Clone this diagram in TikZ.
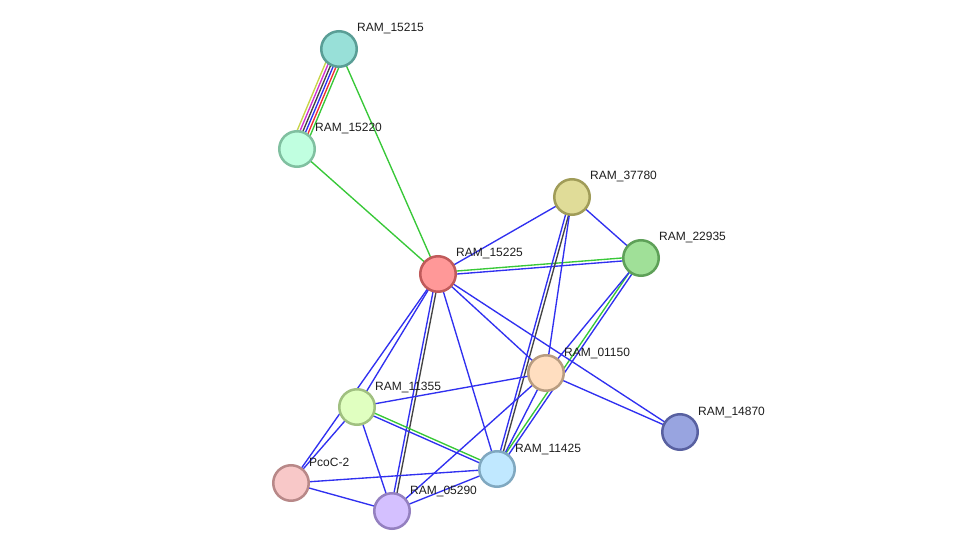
\documentclass[tikz,border=0pt]{standalone}
\usepackage{fontspec}
\setmainfont{Liberation Sans}
\usetikzlibrary{calc,backgrounds}

\tikzset{
    protein/.style={circle, line width=2.5pt, minimum size=35.5pt, inner sep=0pt},
    plabel/.style={anchor=base west, inner sep=0pt, font=\fontsize{12}{14}\selectfont, text=black!88},
    link/.style={line width=1.35pt},
}

\begin{document}
\begin{tikzpicture}[x=1pt, y=-1pt]
    % Define colours
    \definecolor{linkBlue}{HTML}{3030F0}
    \definecolor{linkGreen}{HTML}{38C838}
    \definecolor{linkGray}{HTML}{444444}
    \definecolor{linkRed}{HTML}{F03030}
    \definecolor{linkMagenta}{HTML}{D030D0}
    \definecolor{linkYellow}{HTML}{C8D448}

    \useasboundingbox (0,0) rectangle (975,556);

    % Draw proteins
    \node[protein, fill={rgb,255:red,152;green,224;blue,216}, draw={rgb,255:red,90;green,158;blue,150}] (p15215) at (339,49) {};
    \node[protein, fill={rgb,255:red,192;green,255;blue,224}, draw={rgb,255:red,128;green,192;blue,160}] (p15220) at (297,149) {};
    \node[protein, fill={rgb,255:red,224;green,220;blue,152}, draw={rgb,255:red,160;green,156;blue,88}] (p37780) at (572,197) {};
    \node[protein, fill={rgb,255:red,160;green,224;blue,152}, draw={rgb,255:red,94;green,160;blue,88}] (p22935) at (641,258) {};
    \node[protein, fill={rgb,255:red,255;green,152;blue,152}, draw={rgb,255:red,192;green,90;blue,90}] (p15225) at (438,274) {};
    \node[protein, fill={rgb,255:red,255;green,222;blue,192}, draw={rgb,255:red,184;green,156;blue,128}] (p01150) at (546,373) {};
    \node[protein, fill={rgb,255:red,224;green,255;blue,192}, draw={rgb,255:red,160;green,192;blue,128}] (p11355) at (357,407) {};
    \node[protein, fill={rgb,255:red,152;green,164;blue,224}, draw={rgb,255:red,88;green,96;blue,160}] (p14870) at (680,432) {};
    \node[protein, fill={rgb,255:red,192;green,232;blue,255}, draw={rgb,255:red,128;green,168;blue,192}] (p11425) at (497,469) {};
    \node[protein, fill={rgb,255:red,248;green,200;blue,200}, draw={rgb,255:red,184;green,136;blue,136}] (pPcoC) at (291,483) {};
    \node[protein, fill={rgb,255:red,212;green,192;blue,255}, draw={rgb,255:red,148;green,128;blue,192}] (p05290) at (392,511) {};

    % Label proteins
    \foreach \p/\lbl in {p15215/RAM\_15215, p15220/RAM\_15220, p37780/RAM\_37780,
        p22935/RAM\_22935, p15225/RAM\_15225, p01150/RAM\_01150, p11355/RAM\_11355,
        p14870/RAM\_14870, p11425/RAM\_11425, pPcoC/PcoC-2, p05290/RAM\_05290}
        \node[plabel] at ($(\p.center)+(18,-17)$) {\lbl};

    % Draw links under the proteins
    \begin{scope}[on background layer]
        \fill[white] (0,0) rectangle (975,556);
        \foreach \a/\b/\o/\c in {
            p15215/p15220/-7/linkYellow, p15215/p15220/-4.2/linkMagenta,
            p15215/p15220/-1.4/linkGray, p15215/p15220/1.4/linkBlue,
            p15215/p15220/4.2/linkRed, p15215/p15220/7/linkGreen,
            p15215/p15225/0/linkGreen, p15220/p15225/0/linkGreen,
            p15225/p22935/1.5/linkGreen, p15225/p22935/-1.5/linkBlue,
            p37780/p11425/1.5/linkGray, p37780/p11425/-1.5/linkBlue,
            p22935/p11425/1.5/linkBlue, p22935/p11425/-1.5/linkGreen,
            p15225/p05290/1.5/linkGray, p15225/p05290/-1.5/linkBlue,
            p11355/p11425/1.5/linkGreen, p11355/p11425/-1.5/linkBlue,
            p15225/p37780/0/linkBlue, p37780/p22935/0/linkBlue,
            p37780/p01150/0/linkBlue, p22935/p01150/0/linkBlue,
            p15225/p01150/0/linkBlue, p15225/p14870/0/linkBlue,
            p01150/p14870/0/linkBlue, p15225/p11425/0/linkBlue,
            p15225/p11355/0/linkBlue, p15225/pPcoC/0/linkBlue,
            p11355/p01150/0/linkBlue, p11355/pPcoC/0/linkBlue,
            p11355/p05290/0/linkBlue, pPcoC/p11425/0/linkBlue,
            pPcoC/p05290/0/linkBlue, p05290/p11425/0/linkBlue,
            p05290/p01150/0/linkBlue, p01150/p11425/0/linkBlue}
            \draw[link, \c] ($(\a.center)!\o pt!90:(\b.center)$) -- ($(\b.center)!\o pt!-90:(\a.center)$);
    \end{scope}

\end{tikzpicture}
\end{document}
